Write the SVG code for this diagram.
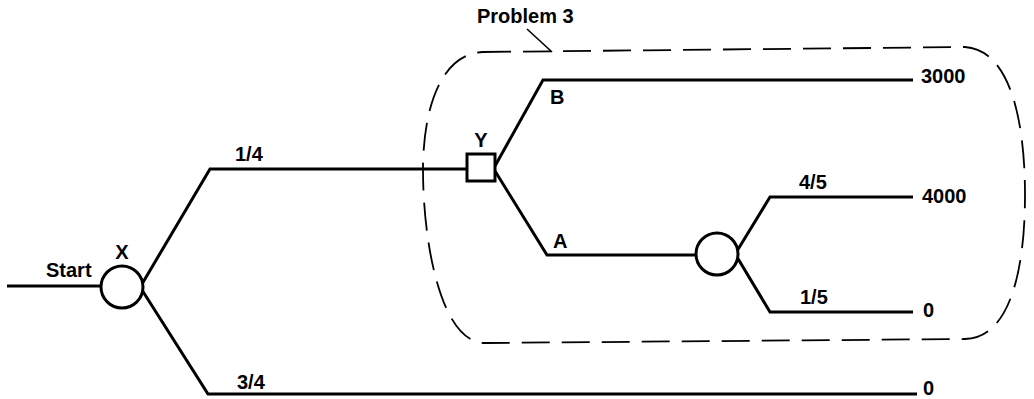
<svg xmlns="http://www.w3.org/2000/svg" width="1034" height="399" viewBox="0 0 1034 399">
<style>
.ln{fill:none;stroke:#000;stroke-width:3;stroke-linejoin:miter}
.nd{fill:#fff;stroke:#000;stroke-width:3}
.t{font-family:"Liberation Sans",Arial,sans-serif;font-weight:bold;font-size:20px;fill:#000}
.dash{fill:none;stroke:#000;stroke-width:1.8;stroke-dasharray:28 12}
</style>
<rect width="1034" height="399" fill="#fff"/>
<g id="problem3">
<path class="dash" d="M 483 52 L 965 47 C 1010 50 1025 120 1025 195 C 1025 270 1010 338 965 339 L 485 343 C 440 343 423 240 423 170 C 423 110 440 54 483 52 Z"/>
<path d="M 527 29 L 552 52" fill="none" stroke="#000" stroke-width="1.6"/>
<text class="t" x="477" y="23">Problem 3</text>
</g>
<g id="connectors">
<path class="ln" d="M 7 286 H 101"/>
<path class="ln" d="M 142 284 L 210 169 H 467"/>
<path class="ln" d="M 142 290 L 208 394 H 917"/>
<path class="ln" d="M 495 166 L 543 80 H 913"/>
<path class="ln" d="M 495 171 L 547 255 H 696"/>
<path class="ln" d="M 737 251 L 770 197 H 913"/>
<path class="ln" d="M 737 257 L 770 312 H 913"/>
<text class="t" x="46" y="277">Start</text>
<text class="t" x="235" y="161">1/4</text>
<text class="t" x="237" y="389">3/4</text>
<text class="t" x="550" y="104">B</text>
<text class="t" x="553" y="248">A</text>
<text class="t" x="799" y="189">4/5</text>
<text class="t" x="800" y="304">1/5</text>
</g>
<g id="node-x">
<circle class="nd" cx="122" cy="287" r="21"/>
<text class="t" x="122" y="259" text-anchor="middle">X</text>
</g>
<g id="node-y">
<rect class="nd" x="467" y="154" width="28" height="27"/>
<text class="t" x="481" y="147" text-anchor="middle">Y</text>
</g>
<g id="node-chance">
<circle class="nd" cx="717" cy="254" r="21"/>
</g>
<g id="outcome-3000"><text class="t" x="921" y="83">3000</text></g>
<g id="outcome-4000"><text class="t" x="922" y="203">4000</text></g>
<g id="outcome-0a"><text class="t" x="923" y="317">0</text></g>
<g id="outcome-0b"><text class="t" x="923" y="395">0</text></g>
</svg>
